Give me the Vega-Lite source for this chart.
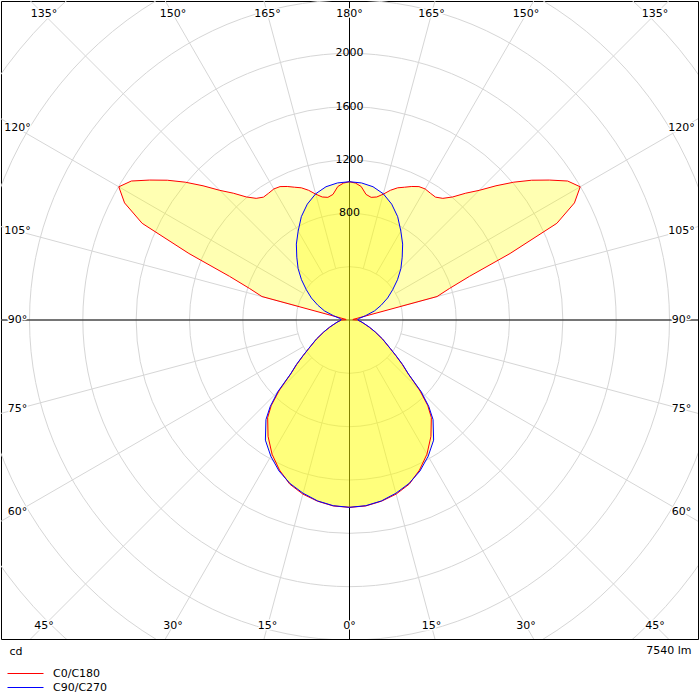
{
  "$schema": "https://vega.github.io/schema/vega-lite/v6.json",
  "width": 697,
  "height": 638,
  "autosize": {"type": "none"},
  "padding": {"left": 1, "top": 1, "right": 2, "bottom": 61},
  "background": "white",
  "config": {
    "font": "DejaVu Sans",
    "view": {"stroke": "#000000", "strokeWidth": 1},
    "axis": {"domain": false, "ticks": false, "labels": false, "grid": false, "titleFontSize": 11, "titleFontWeight": "normal", "titleColor": "#000000"}
  },
  "datasets": {
    "circles": [{"r": 400}, {"r": 800}, {"r": 1200}, {"r": 1600}, {"r": 2000}, {"r": 2400}, {"r": 2800}, {"r": 3200}, {"r": 3600}],
    "spokes": [{"a": 0}, {"a": 15}, {"a": 30}, {"a": 45}, {"a": 60}, {"a": 75}, {"a": 90}, {"a": 105}, {"a": 120}, {"a": 135}, {"a": 150}, {"a": 165}, {"a": 180}, {"a": 195}, {"a": 210}, {"a": 225}, {"a": 240}, {"a": 255}, {"a": 270}, {"a": 285}, {"a": 300}, {"a": 315}, {"a": 330}, {"a": 345}],
    "rlabels": [{"v": 800}, {"v": 1200}, {"v": 1600}, {"v": 2000}],
    "alabels": [
      {"ang": 180, "s": 1, "lab": "180°"},
      {"ang": 165, "s": -1, "lab": "165°"}, {"ang": 165, "s": 1, "lab": "165°"},
      {"ang": 150, "s": -1, "lab": "150°"}, {"ang": 150, "s": 1, "lab": "150°"},
      {"ang": 135, "s": -1, "lab": "135°"}, {"ang": 135, "s": 1, "lab": "135°"},
      {"ang": 120, "s": -1, "lab": "120°"}, {"ang": 120, "s": 1, "lab": "120°"},
      {"ang": 105, "s": -1, "lab": "105°"}, {"ang": 105, "s": 1, "lab": "105°"},
      {"ang": 90, "s": -1, "lab": "90°"}, {"ang": 90, "s": 1, "lab": "90°"},
      {"ang": 75, "s": -1, "lab": "75°"}, {"ang": 75, "s": 1, "lab": "75°"},
      {"ang": 60, "s": -1, "lab": "60°"}, {"ang": 60, "s": 1, "lab": "60°"},
      {"ang": 45, "s": -1, "lab": "45°"}, {"ang": 45, "s": 1, "lab": "45°"},
      {"ang": 30, "s": -1, "lab": "30°"}, {"ang": 30, "s": 1, "lab": "30°"},
      {"ang": 15, "s": -1, "lab": "15°"}, {"ang": 15, "s": 1, "lab": "15°"},
      {"ang": 0, "s": 1, "lab": "0°"}
    ],
    "ldc": [
      {"p": "C0/C180", "s": 1, "g": 0, "cd": 1405}, {"p": "C0/C180", "s": 1, "g": 5, "cd": 1400}, {"p": "C0/C180", "s": 1, "g": 10, "cd": 1380}, {"p": "C0/C180", "s": 1, "g": 15, "cd": 1352}, {"p": "C0/C180", "s": 1, "g": 20, "cd": 1310}, {"p": "C0/C180", "s": 1, "g": 25, "cd": 1242}, {"p": "C0/C180", "s": 1, "g": 30, "cd": 1162}, {"p": "C0/C180", "s": 1, "g": 35, "cd": 1065}, {"p": "C0/C180", "s": 1, "g": 40, "cd": 955},
      {"p": "C0/C180", "s": 1, "g": 42.5, "cd": 868}, {"p": "C0/C180", "s": 1, "g": 45, "cd": 742}, {"p": "C0/C180", "s": 1, "g": 47.5, "cd": 597}, {"p": "C0/C180", "s": 1, "g": 50, "cd": 515}, {"p": "C0/C180", "s": 1, "g": 52.5, "cd": 437}, {"p": "C0/C180", "s": 1, "g": 55, "cd": 372},
      {"p": "C0/C180", "s": 1, "g": 60, "cd": 285}, {"p": "C0/C180", "s": 1, "g": 65, "cd": 212}, {"p": "C0/C180", "s": 1, "g": 70, "cd": 158}, {"p": "C0/C180", "s": 1, "g": 75, "cd": 118}, {"p": "C0/C180", "s": 1, "g": 80, "cd": 93}, {"p": "C0/C180", "s": 1, "g": 85, "cd": 73}, {"p": "C0/C180", "s": 1, "g": 90, "cd": 62}, {"p": "C0/C180", "s": 1, "g": 95, "cd": 25}, {"p": "C0/C180", "s": 1, "g": 100, "cd": 30}, {"p": "C0/C180", "s": 1, "g": 105, "cd": 680},
      {"p": "C0/C180", "s": 1, "g": 107.5, "cd": 786}, {"p": "C0/C180", "s": 1, "g": 110, "cd": 958}, {"p": "C0/C180", "s": 1, "g": 112.5, "cd": 1304}, {"p": "C0/C180", "s": 1, "g": 115, "cd": 1716}, {"p": "C0/C180", "s": 1, "g": 117.5, "cd": 1902}, {"p": "C0/C180", "s": 1, "g": 120, "cd": 1998},
      {"p": "C0/C180", "s": 1, "g": 122.5, "cd": 1940}, {"p": "C0/C180", "s": 1, "g": 125, "cd": 1830}, {"p": "C0/C180", "s": 1, "g": 127.5, "cd": 1722}, {"p": "C0/C180", "s": 1, "g": 130, "cd": 1608}, {"p": "C0/C180", "s": 1, "g": 132.5, "cd": 1490}, {"p": "C0/C180", "s": 1, "g": 135, "cd": 1375}, {"p": "C0/C180", "s": 1, "g": 137.5, "cd": 1290}, {"p": "C0/C180", "s": 1, "g": 140, "cd": 1205},
      {"p": "C0/C180", "s": 1, "g": 142.5, "cd": 1150}, {"p": "C0/C180", "s": 1, "g": 145, "cd": 1125}, {"p": "C0/C180", "s": 1, "g": 147.5, "cd": 1128}, {"p": "C0/C180", "s": 1, "g": 150, "cd": 1135}, {"p": "C0/C180", "s": 1, "g": 152.5, "cd": 1128}, {"p": "C0/C180", "s": 1, "g": 155, "cd": 1105}, {"p": "C0/C180", "s": 1, "g": 157.5, "cd": 1078}, {"p": "C0/C180", "s": 1, "g": 160, "cd": 1055},
      {"p": "C0/C180", "s": 1, "g": 162.5, "cd": 1020}, {"p": "C0/C180", "s": 1, "g": 165, "cd": 977}, {"p": "C0/C180", "s": 1, "g": 167.5, "cd": 945}, {"p": "C0/C180", "s": 1, "g": 170, "cd": 934}, {"p": "C0/C180", "s": 1, "g": 172.5, "cd": 950}, {"p": "C0/C180", "s": 1, "g": 175, "cd": 1005}, {"p": "C0/C180", "s": 1, "g": 177.5, "cd": 1028}, {"p": "C0/C180", "s": 1, "g": 180, "cd": 1037},

      {"p": "C0/C180", "s": -1, "g": 0, "cd": 1405}, {"p": "C0/C180", "s": -1, "g": 5, "cd": 1400}, {"p": "C0/C180", "s": -1, "g": 10, "cd": 1380}, {"p": "C0/C180", "s": -1, "g": 15, "cd": 1352}, {"p": "C0/C180", "s": -1, "g": 20, "cd": 1310}, {"p": "C0/C180", "s": -1, "g": 25, "cd": 1242}, {"p": "C0/C180", "s": -1, "g": 30, "cd": 1162}, {"p": "C0/C180", "s": -1, "g": 35, "cd": 1065}, {"p": "C0/C180", "s": -1, "g": 40, "cd": 955},
      {"p": "C0/C180", "s": -1, "g": 42.5, "cd": 868}, {"p": "C0/C180", "s": -1, "g": 45, "cd": 742}, {"p": "C0/C180", "s": -1, "g": 47.5, "cd": 597}, {"p": "C0/C180", "s": -1, "g": 50, "cd": 515}, {"p": "C0/C180", "s": -1, "g": 52.5, "cd": 437}, {"p": "C0/C180", "s": -1, "g": 55, "cd": 372},
      {"p": "C0/C180", "s": -1, "g": 60, "cd": 285}, {"p": "C0/C180", "s": -1, "g": 65, "cd": 212}, {"p": "C0/C180", "s": -1, "g": 70, "cd": 158}, {"p": "C0/C180", "s": -1, "g": 75, "cd": 118}, {"p": "C0/C180", "s": -1, "g": 80, "cd": 93}, {"p": "C0/C180", "s": -1, "g": 85, "cd": 73}, {"p": "C0/C180", "s": -1, "g": 90, "cd": 62}, {"p": "C0/C180", "s": -1, "g": 95, "cd": 25}, {"p": "C0/C180", "s": -1, "g": 100, "cd": 30}, {"p": "C0/C180", "s": -1, "g": 105, "cd": 680},
      {"p": "C0/C180", "s": -1, "g": 107.5, "cd": 786}, {"p": "C0/C180", "s": -1, "g": 110, "cd": 958}, {"p": "C0/C180", "s": -1, "g": 112.5, "cd": 1304}, {"p": "C0/C180", "s": -1, "g": 115, "cd": 1716}, {"p": "C0/C180", "s": -1, "g": 117.5, "cd": 1902}, {"p": "C0/C180", "s": -1, "g": 120, "cd": 1998},
      {"p": "C0/C180", "s": -1, "g": 122.5, "cd": 1940}, {"p": "C0/C180", "s": -1, "g": 125, "cd": 1830}, {"p": "C0/C180", "s": -1, "g": 127.5, "cd": 1722}, {"p": "C0/C180", "s": -1, "g": 130, "cd": 1608}, {"p": "C0/C180", "s": -1, "g": 132.5, "cd": 1490}, {"p": "C0/C180", "s": -1, "g": 135, "cd": 1375}, {"p": "C0/C180", "s": -1, "g": 137.5, "cd": 1290}, {"p": "C0/C180", "s": -1, "g": 140, "cd": 1205},
      {"p": "C0/C180", "s": -1, "g": 142.5, "cd": 1150}, {"p": "C0/C180", "s": -1, "g": 145, "cd": 1125}, {"p": "C0/C180", "s": -1, "g": 147.5, "cd": 1128}, {"p": "C0/C180", "s": -1, "g": 150, "cd": 1135}, {"p": "C0/C180", "s": -1, "g": 152.5, "cd": 1128}, {"p": "C0/C180", "s": -1, "g": 155, "cd": 1105}, {"p": "C0/C180", "s": -1, "g": 157.5, "cd": 1078}, {"p": "C0/C180", "s": -1, "g": 160, "cd": 1055},
      {"p": "C0/C180", "s": -1, "g": 162.5, "cd": 1020}, {"p": "C0/C180", "s": -1, "g": 165, "cd": 977}, {"p": "C0/C180", "s": -1, "g": 167.5, "cd": 945}, {"p": "C0/C180", "s": -1, "g": 170, "cd": 934}, {"p": "C0/C180", "s": -1, "g": 172.5, "cd": 950}, {"p": "C0/C180", "s": -1, "g": 175, "cd": 1005}, {"p": "C0/C180", "s": -1, "g": 177.5, "cd": 1028}, {"p": "C0/C180", "s": -1, "g": 180, "cd": 1037},

      {"p": "C90/C270", "s": 1, "g": 0, "cd": 1405}, {"p": "C90/C270", "s": 1, "g": 5, "cd": 1398}, {"p": "C90/C270", "s": 1, "g": 10, "cd": 1378}, {"p": "C90/C270", "s": 1, "g": 15, "cd": 1345}, {"p": "C90/C270", "s": 1, "g": 20, "cd": 1305}, {"p": "C90/C270", "s": 1, "g": 25, "cd": 1250}, {"p": "C90/C270", "s": 1, "g": 30, "cd": 1180}, {"p": "C90/C270", "s": 1, "g": 35, "cd": 1100}, {"p": "C90/C270", "s": 1, "g": 40, "cd": 975},
      {"p": "C90/C270", "s": 1, "g": 42.5, "cd": 880}, {"p": "C90/C270", "s": 1, "g": 45, "cd": 760}, {"p": "C90/C270", "s": 1, "g": 47.5, "cd": 600}, {"p": "C90/C270", "s": 1, "g": 50, "cd": 520}, {"p": "C90/C270", "s": 1, "g": 52.5, "cd": 440}, {"p": "C90/C270", "s": 1, "g": 55, "cd": 375},
      {"p": "C90/C270", "s": 1, "g": 60, "cd": 288}, {"p": "C90/C270", "s": 1, "g": 65, "cd": 215}, {"p": "C90/C270", "s": 1, "g": 70, "cd": 160}, {"p": "C90/C270", "s": 1, "g": 75, "cd": 120}, {"p": "C90/C270", "s": 1, "g": 80, "cd": 95}, {"p": "C90/C270", "s": 1, "g": 85, "cd": 75}, {"p": "C90/C270", "s": 1, "g": 90, "cd": 62}, {"p": "C90/C270", "s": 1, "g": 95, "cd": 65}, {"p": "C90/C270", "s": 1, "g": 100, "cd": 78}, {"p": "C90/C270", "s": 1, "g": 105, "cd": 125},
      {"p": "C90/C270", "s": 1, "g": 110, "cd": 200}, {"p": "C90/C270", "s": 1, "g": 115, "cd": 262}, {"p": "C90/C270", "s": 1, "g": 120, "cd": 330}, {"p": "C90/C270", "s": 1, "g": 125, "cd": 395}, {"p": "C90/C270", "s": 1, "g": 130, "cd": 470}, {"p": "C90/C270", "s": 1, "g": 135, "cd": 545}, {"p": "C90/C270", "s": 1, "g": 140, "cd": 615}, {"p": "C90/C270", "s": 1, "g": 145, "cd": 695},
      {"p": "C90/C270", "s": 1, "g": 150, "cd": 770}, {"p": "C90/C270", "s": 1, "g": 155, "cd": 855}, {"p": "C90/C270", "s": 1, "g": 160, "cd": 925}, {"p": "C90/C270", "s": 1, "g": 165, "cd": 980}, {"p": "C90/C270", "s": 1, "g": 170, "cd": 1015}, {"p": "C90/C270", "s": 1, "g": 175, "cd": 1032}, {"p": "C90/C270", "s": 1, "g": 180, "cd": 1037},

      {"p": "C90/C270", "s": -1, "g": 0, "cd": 1405}, {"p": "C90/C270", "s": -1, "g": 5, "cd": 1398}, {"p": "C90/C270", "s": -1, "g": 10, "cd": 1378}, {"p": "C90/C270", "s": -1, "g": 15, "cd": 1345}, {"p": "C90/C270", "s": -1, "g": 20, "cd": 1305}, {"p": "C90/C270", "s": -1, "g": 25, "cd": 1250}, {"p": "C90/C270", "s": -1, "g": 30, "cd": 1180}, {"p": "C90/C270", "s": -1, "g": 35, "cd": 1100}, {"p": "C90/C270", "s": -1, "g": 40, "cd": 975},
      {"p": "C90/C270", "s": -1, "g": 42.5, "cd": 880}, {"p": "C90/C270", "s": -1, "g": 45, "cd": 760}, {"p": "C90/C270", "s": -1, "g": 47.5, "cd": 600}, {"p": "C90/C270", "s": -1, "g": 50, "cd": 520}, {"p": "C90/C270", "s": -1, "g": 52.5, "cd": 440}, {"p": "C90/C270", "s": -1, "g": 55, "cd": 375},
      {"p": "C90/C270", "s": -1, "g": 60, "cd": 288}, {"p": "C90/C270", "s": -1, "g": 65, "cd": 215}, {"p": "C90/C270", "s": -1, "g": 70, "cd": 160}, {"p": "C90/C270", "s": -1, "g": 75, "cd": 120}, {"p": "C90/C270", "s": -1, "g": 80, "cd": 95}, {"p": "C90/C270", "s": -1, "g": 85, "cd": 75}, {"p": "C90/C270", "s": -1, "g": 90, "cd": 62}, {"p": "C90/C270", "s": -1, "g": 95, "cd": 65}, {"p": "C90/C270", "s": -1, "g": 100, "cd": 78}, {"p": "C90/C270", "s": -1, "g": 105, "cd": 125},
      {"p": "C90/C270", "s": -1, "g": 110, "cd": 200}, {"p": "C90/C270", "s": -1, "g": 115, "cd": 262}, {"p": "C90/C270", "s": -1, "g": 120, "cd": 330}, {"p": "C90/C270", "s": -1, "g": 125, "cd": 395}, {"p": "C90/C270", "s": -1, "g": 130, "cd": 470}, {"p": "C90/C270", "s": -1, "g": 135, "cd": 545}, {"p": "C90/C270", "s": -1, "g": 140, "cd": 615}, {"p": "C90/C270", "s": -1, "g": 145, "cd": 695},
      {"p": "C90/C270", "s": -1, "g": 150, "cd": 770}, {"p": "C90/C270", "s": -1, "g": 155, "cd": 855}, {"p": "C90/C270", "s": -1, "g": 160, "cd": 925}, {"p": "C90/C270", "s": -1, "g": 165, "cd": 980}, {"p": "C90/C270", "s": -1, "g": 170, "cd": 1015}, {"p": "C90/C270", "s": -1, "g": 175, "cd": 1032}, {"p": "C90/C270", "s": -1, "g": 180, "cd": 1037}
    ]
  },
  "layer": [
    {
      "data": {"name": "circles"},
      "mark": {"type": "arc", "theta": 0, "theta2": 6.2832, "stroke": "#d6d6d6", "strokeWidth": 1, "fillOpacity": 0, "clip": true},
      "encoding": {
        "radius": {"field": "r", "type": "quantitative", "stack": null, "scale": {"type": "linear", "domain": [0, 2400], "range": [0, 320], "zero": true}}
      }
    },
    {
      "data": {"name": "spokes"},
      "transform": [
        {"calculate": "400 * sin(datum.a * PI / 180)", "as": "xa"},
        {"calculate": "400 * cos(datum.a * PI / 180)", "as": "ya"},
        {"calculate": "4000 * sin(datum.a * PI / 180)", "as": "xb"},
        {"calculate": "4000 * cos(datum.a * PI / 180)", "as": "yb"}
      ],
      "mark": {"type": "rule", "stroke": "#d6d6d6", "strokeWidth": 1, "clip": true},
      "encoding": {
        "x": {"field": "xa", "type": "quantitative", "scale": {"domain": [-2613.75, 2613.75], "nice": false, "zero": false},
          "axis": {"title": "7540 lm", "titleX": 690, "titleY": 5, "titleAlign": "right", "titleBaseline": "top"}},
        "y": {"field": "ya", "type": "quantitative", "scale": {"domain": [-2392.5, 2392.5], "nice": false, "zero": false},
          "axis": {"title": "cd", "titleAngle": 0, "titleX": 8, "titleY": 644, "titleAlign": "left", "titleBaseline": "top"}},
        "x2": {"field": "xb"},
        "y2": {"field": "yb"}
      }
    },
    {
      "data": {"values": [{}]},
      "mark": {"type": "rule", "color": "#000000", "strokeWidth": 1},
      "encoding": {"y": {"datum": 0, "type": "quantitative"}}
    },
    {
      "data": {"values": [{}]},
      "mark": {"type": "rule", "color": "#000000", "strokeWidth": 1},
      "encoding": {"x": {"datum": 0, "type": "quantitative"}}
    },
    {
      "data": {"name": "alabels"},
      "transform": [
        {"calculate": "datum.s * sin(datum.ang * PI / 180)", "as": "ux"},
        {"calculate": "-cos(datum.ang * PI / 180)", "as": "uy"},
        {"calculate": "min(abs(datum.ux) > 0.001 ? 2490 / abs(datum.ux) : 100000, abs(datum.uy) > 0.001 ? 2292 / abs(datum.uy) : 100000)", "as": "t"},
        {"calculate": "datum.t * datum.ux", "as": "lx"},
        {"calculate": "datum.t * datum.uy", "as": "ly"}
      ],
      "encoding": {
        "x": {"field": "lx", "type": "quantitative"},
        "y": {"field": "ly", "type": "quantitative"},
        "text": {"field": "lab", "type": "nominal"}
      },
      "layer": [
        {"mark": {"type": "text", "fontSize": 11, "fill": "#ffffff", "stroke": "#ffffff", "strokeWidth": 3, "strokeJoin": "round"}},
        {"mark": {"type": "text", "fontSize": 11, "color": "#000000"}}
      ]
    },
    {
      "data": {"name": "ldc"},
      "transform": [
        {"calculate": "datum.s * datum.cd * sin(datum.g * PI / 180)", "as": "cx"},
        {"calculate": "-datum.cd * cos(datum.g * PI / 180)", "as": "cy"},
        {"calculate": "datum.s == 1 ? datum.g : 360 - datum.g", "as": "k"}
      ],
      "encoding": {
        "x": {"field": "cx", "type": "quantitative"},
        "y": {"field": "cy", "type": "quantitative"},
        "order": {"field": "k", "type": "quantitative"}
      },
      "layer": [
        {
          "mark": {"type": "line", "fill": "#ffff00", "fillOpacity": 0.3, "strokeOpacity": 0},
          "encoding": {"detail": {"field": "p", "type": "nominal"}}
        },
        {
          "mark": {"type": "line", "strokeWidth": 1},
          "encoding": {
            "color": {
              "field": "p", "type": "nominal",
              "scale": {"domain": ["C0/C180", "C90/C270"], "range": ["#ff0000", "#0000ff"]},
              "legend": {"orient": "none", "legendX": 18, "legendY": 666, "title": null, "symbolType": "M-3,0H3", "symbolSize": 144, "symbolStrokeWidth": 1, "symbolFillColor": "transparent", "labelFontSize": 11, "labelColor": "#000000", "labelOffset": 21, "rowPadding": 2, "padding": 0}
            }
          }
        }
      ]
    },
    {
      "data": {"name": "rlabels"},
      "mark": {"type": "text", "fontSize": 11, "color": "#000000"},
      "encoding": {
        "x": {"datum": 0, "type": "quantitative"},
        "y": {"field": "v", "type": "quantitative"},
        "text": {"field": "v", "type": "nominal"}
      }
    }
  ]
}
